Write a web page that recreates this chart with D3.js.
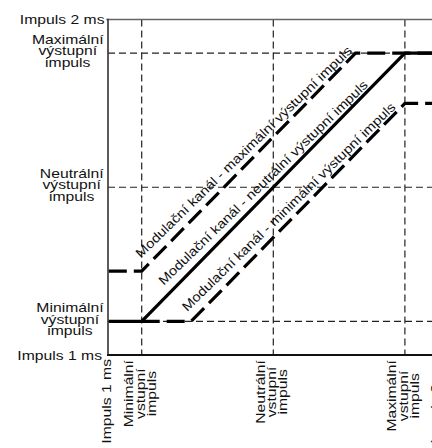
<!DOCTYPE html>
<html><head><meta charset="utf-8">
<script src="https://cdn.jsdelivr.net/npm/d3@7"></script>
<style>
html,body{margin:0;padding:0;background:#fff;}
svg{display:block;}
text{font-family:"Liberation Sans",Arial,Helvetica,sans-serif;font-size:13px;fill:#111;}
</style>
</head><body>
<svg id="chart" width="432" height="448"></svg>
<script>
// ---- data (pulse widths in ms) ----
const axisDomain = [1, 2];
const axisEndLabels = ["Impuls 1 ms", "Impuls 2 ms"];
const levelValues = [1.1, 1.5, 1.9];
const yLevelLabels = [["Minimální","výstupní","impuls"],["Neutrální","výstupní","impuls"],["Maximální","výstupní","impuls"]];
const xLevelLabels = [["Minimální","vstupní","impuls"],["Neutrální","vstupní","impuls"],["Maximální","vstupní","impuls"]];
const seriesNames = [
  "Modulační kanál - maximální výstupní impuls",
  "Modulační kanál - neutrální výstupní impuls",
  "Modulační kanál - minimální výstupní impuls"
];
const seriesDashed = [true, false, true];
const seriesMaxInput = [1.0, 1.0, 1.1];
const seriesPoints = [
  [[1.0,1.25],[1.1,1.25],[1.75,1.9],[2.1,1.9]],
  [[1.0,1.1],[1.1,1.1],[1.9,1.9],[2.1,1.9]],
  [[1.1,1.1],[1.25,1.1],[1.9,1.75],[2.1,1.75]]
];
const seriesLabelEnd = [1.748, 1.796, 1.88];

// ---- layout ----
const svg = d3.select("#chart");
const x = d3.scaleLinear().domain(axisDomain).range([108.8, 437.8]);
const y = d3.scaleLinear().domain(axisDomain).range([355, 19.5]);
const stretch = 1.21, diagStretch = 1.146, lineGap = 11.4;

// gridlines (thin dashed)
const grid = svg.append("g").attr("stroke","#222").attr("stroke-width",1.2)
  .attr("stroke-dasharray","7,4").attr("fill","none");
levelValues.forEach(v=>{
  grid.append("line").attr("x1",x(v)).attr("x2",x(v)).attr("y1",y(2)).attr("y2",y(1));
  grid.append("line").attr("x1",x(1)-0.8).attr("x2",x(2.1)).attr("y1",y(v)).attr("y2",y(v));
});

// frame
svg.append("line").attr("x1",x(1)-2.5).attr("x2",x(2.1)).attr("y1",y(2)).attr("y2",y(2))
  .attr("stroke","#666").attr("stroke-width",1.6);
svg.append("line").attr("x1",x(1)-0.8).attr("x2",x(1)-0.8).attr("y1",y(2)-0.8).attr("y2",y(1)+1)
  .attr("stroke","#333").attr("stroke-width",1.6);
svg.append("line").attr("x1",x(1)-1.6).attr("x2",x(2.1)).attr("y1",y(1)).attr("y2",y(1))
  .attr("stroke","#111").attr("stroke-width",2);

// mixing lines
const lineGen = d3.line().x(d=>x(d[0])).y(d=>y(d[1]));
seriesPoints.forEach((pts,i)=>{
  svg.append("path").attr("d",lineGen(pts)).attr("fill","none")
    .attr("stroke","#000").attr("stroke-width",3.2)
    .attr("stroke-dasharray", seriesDashed[i] ? "18,7" : null);
});

// diagonal labels
seriesNames.forEach((name,i)=>{
  const pts = seriesPoints[i];
  const a = pts[1], b = pts[2];
  const t = seriesLabelEnd[i];
  const out = a[1] + (t - a[0]) * (b[1]-a[1])/(b[0]-a[0]);
  const px = x(t) - 2.1, py = y(out) - 2.1;
  svg.append("g").attr("transform",`translate(${px},${py}) rotate(-44.3) scale(${diagStretch},1)`)
    .append("text").attr("text-anchor","end").text(name);
});

// left (output) labels
function block(lines, tx, ty, rot, midBaseline){
  const g = svg.append("g").attr("transform",`translate(${tx},${ty}) rotate(${rot})`);
  const texts = lines.map((s,k)=>g.append("text").attr("y", midBaseline + (k-1)*lineGap).text(s));
  const maxW = d3.max(texts, t=>t.node().getComputedTextLength());
  texts.forEach(t=>{
    t.attr("text-anchor","middle").attr("transform",`scale(${stretch},1)`)
     .attr("x", -maxW/2);
  });
}
yLevelLabels.forEach((lines,i)=>{
  block(lines, 103.6, y(levelValues[i]), 0, 2.2);
});
xLevelLabels.forEach((lines,i)=>{
  block(lines, x(levelValues[i]), 360, -90, 2.8);
});

// axis end labels
svg.append("g").attr("transform",`translate(104.5,${y(2)+4.7}) scale(${stretch},1)`)
  .append("text").attr("text-anchor","end").text(axisEndLabels[1]);
svg.append("g").attr("transform",`translate(102,${y(1)+4.7}) scale(${stretch},1)`)
  .append("text").attr("text-anchor","end").text(axisEndLabels[0]);
[0,1].forEach(k=>{
  const xv = axisDomain[k];
  svg.append("g").attr("transform",`translate(${x(xv)+2.2},359) rotate(-90) scale(${stretch},1)`)
    .append("text").attr("text-anchor","end").text(axisEndLabels[k]);
});
</script>
</body></html>
